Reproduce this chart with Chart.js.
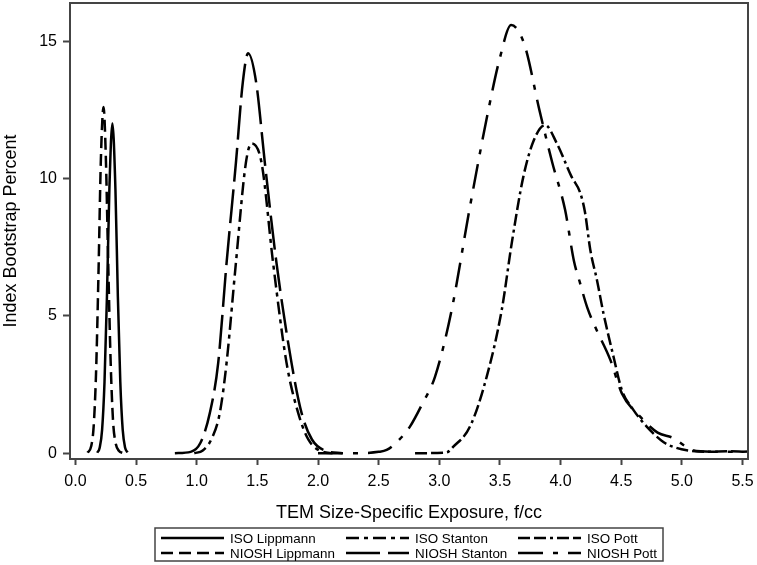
<!DOCTYPE html>
<html>
<head>
<meta charset="utf-8">
<script src="https://cdn.jsdelivr.net/npm/chart.js@4"></script>
<style>
  body { margin: 0; background: #fff; }
  #wrap { width: 757px; height: 565px; position: relative; }
</style>
</head>
<body>
<div id="wrap"><canvas id="myChart"></canvas></div>
<script>
"use strict";

// tick labels
const xTicks = [0, 0.5, 1, 1.5, 2, 2.5, 3, 3.5, 4, 4.5, 5, 5.5];
const yTicks = [0, 5, 10, 15];

const seriesNames = ['ISO Lippmann', 'ISO Stanton', 'ISO Pott', 'NIOSH Lippmann', 'NIOSH Stanton', 'NIOSH Pott'];

// values (x = f/cc, y = percent)
const isoLippmannX = [0.18, 0.20, 0.22, 0.24, 0.26, 0.28, 0.305, 0.33, 0.35, 0.37, 0.39, 0.41, 0.43];
const isoLippmannY = [0.02, 0.2, 0.85, 2.6, 5.7, 9.6, 12.0, 9.6, 5.7, 2.6, 0.85, 0.2, 0.03];

const nioshLippmannX = [0.10, 0.13, 0.15, 0.17, 0.19, 0.21, 0.232, 0.25, 0.27, 0.29, 0.31, 0.33, 0.36, 0.39];
const nioshLippmannY = [0.02, 0.25, 0.95, 2.9, 6.5, 10.7, 12.6, 10.9, 7.0, 3.4, 1.2, 0.4, 0.08, 0.01];

const isoStantonX = [0.98, 1.05, 1.12, 1.19, 1.246, 1.323, 1.405, 1.452, 1.535, 1.63, 1.741, 1.837, 1.92, 2.04, 2.12];
const isoStantonY = [0.0, 0.1, 0.5, 1.46, 3.28, 6.92, 10.56, 11.28, 10.56, 6.92, 3.28, 1.46, 0.5, 0.05, 0.0];

const nioshStantonX = [0.82, 0.95, 1.03, 1.108, 1.177, 1.246, 1.323, 1.38, 1.424, 1.49, 1.562, 1.658, 1.782, 1.865, 1.95, 2.07, 2.2];
const nioshStantonY = [0.0, 0.05, 0.37, 1.46, 3.28, 6.92, 10.56, 13.5, 14.56, 13.5, 10.56, 6.92, 3.28, 1.46, 0.5, 0.08, 0.0];

const isoPottX = [2.80, 3.06, 3.116, 3.253, 3.391, 3.515, 3.597, 3.693, 3.78, 3.872, 3.969, 4.09, 4.16, 4.2, 4.245, 4.30, 4.353, 4.436, 4.505, 4.60, 4.71, 4.85, 4.95, 5.05, 5.2, 5.4, 5.55];
const isoPottY = [0.0, 0.03, 0.24, 0.97, 2.79, 5.22, 7.64, 10.07, 11.4, 11.95, 11.28, 10.07, 9.5, 8.8, 7.4, 6.3, 5.1, 3.52, 2.3, 1.58, 0.97, 0.4, 0.2, 0.1, 0.05, 0.07, 0.05];

const nioshPottX = [2.0, 2.3, 2.5, 2.566, 2.66, 2.758, 2.86, 2.965, 3.102, 3.248, 3.405, 3.50, 3.592, 3.70, 3.825, 3.93, 4.037, 4.11, 4.16, 4.22, 4.285, 4.41, 4.505, 4.656, 4.80, 4.93, 5.03, 5.12, 5.3, 5.55];
const nioshPottY = [0.0, 0.0, 0.05, 0.12, 0.45, 0.97, 1.8, 2.79, 5.22, 8.86, 12.5, 14.4, 15.59, 14.9, 12.5, 10.6, 8.86, 7.0, 6.2, 5.3, 4.6, 3.4, 2.18, 1.33, 0.75, 0.55, 0.25, 0.08, 0.05, 0.06];

const seriesX = [isoLippmannX, isoStantonX, isoPottX, nioshLippmannX, nioshStantonX, nioshPottX];
const seriesY = [isoLippmannY, isoStantonY, isoPottY, nioshLippmannY, nioshStantonY, nioshPottY];

// line styles for each series
const dashes = [[], [13, 5, 4, 5], [12, 4, 12, 4, 3, 4], [12, 6], [34, 8], [25, 10, 5, 10]];

const FONT = "'Liberation Sans', Arial, sans-serif";
const AXIS = '#444';

function toPoints(xs, ys) {
  return xs.map(function (x, i) { return { x: x, y: ys[i] }; });
}

const datasets = seriesNames.map(function (name, i) {
  return {
    label: name,
    data: toPoints(seriesX[i], seriesY[i]),
    borderColor: '#000',
    borderWidth: 2.5,
    borderDash: dashes[i],
    pointRadius: 0,
    fill: false,
    cubicInterpolationMode: 'monotone'
  };
});

// top + right frame
const framePlugin = {
  id: 'frame',
  afterDraw: function (chart) {
    const c = chart.ctx, a = chart.chartArea;
    c.save();
    c.strokeStyle = AXIS;
    c.lineWidth = 2;
    c.beginPath();
    c.moveTo(a.left, a.top);
    c.lineTo(a.right, a.top);
    c.lineTo(a.right, a.bottom);
    c.stroke();
    c.restore();
  }
};

// boxed legend, 3 columns x 2 rows
const legendPlugin = {
  id: 'boxLegend',
  afterDraw: function (chart) {
    const c = chart.ctx;
    const colX = [161, 346, 518];
    const rowY = [538, 553];
    c.save();
    c.strokeStyle = AXIS;
    c.lineWidth = 1.5;
    c.strokeRect(155, 528, 508, 33);
    c.font = '13.4px ' + FONT;
    c.textBaseline = 'middle';
    c.fillStyle = '#000';
    chart.data.datasets.forEach(function (ds, i) {
      const x = colX[i % 3], y = rowY[Math.floor(i / 3)];
      c.beginPath();
      c.strokeStyle = '#000';
      c.lineWidth = 2.5;
      c.setLineDash(ds.borderDash);
      c.moveTo(x, y);
      c.lineTo(x + 63, y);
      c.stroke();
      c.setLineDash([]);
      c.fillText(ds.label, x + 69, y + 1);
    });
    c.restore();
  }
};

var ctx = document.getElementById('myChart').getContext('2d');
new Chart(ctx, {
  type: 'line',
  data: { datasets: datasets },
  options: {
    responsive: true,
    maintainAspectRatio: false,
    animation: false,
    layout: { padding: { top: 3, right: 9, left: 0, bottom: 0 } },
    plugins: {
      legend: { display: false },
      tooltip: { enabled: false }
    },
    scales: {
      x: {
        type: 'linear',
        min: -0.0446,
        max: 5.545,
        afterBuildTicks: function (scale) {
          scale.ticks = xTicks.map(function (v) { return { value: v }; });
        },
        afterFit: function (scale) {
          scale.height = 106;
          scale.paddingLeft = 0;
          scale.paddingRight = 0;
        },
        border: { display: true, color: AXIS, width: 2 },
        grid: { drawOnChartArea: false, drawTicks: true, tickLength: 6, tickColor: AXIS, tickWidth: 2 },
        ticks: {
          padding: 7,
          color: '#000',
          maxRotation: 0,
          autoSkip: false,
          font: { family: FONT, size: 16 },
          callback: function (v) { return v.toFixed(1); }
        },
        title: {
          display: true,
          text: 'TEM Size-Specific Exposure, f/cc',
          color: '#000',
          font: { family: FONT, size: 18 },
          padding: { top: 0, bottom: 41 }
        }
      },
      y: {
        type: 'linear',
        min: -0.21,
        max: 16.39,
        afterBuildTicks: function (scale) {
          scale.ticks = yTicks.map(function (v) { return { value: v }; });
        },
        afterFit: function (scale) {
          scale.width = 70;
          scale.paddingTop = 0;
          scale.paddingBottom = 0;
        },
        border: { display: true, color: AXIS, width: 2 },
        grid: { drawOnChartArea: false, drawTicks: true, tickLength: 7, tickColor: AXIS, tickWidth: 2 },
        ticks: {
          padding: 6,
          color: '#000',
          font: { family: FONT, size: 16 },
          callback: function (v) { return String(v); }
        },
        title: {
          display: true,
          text: 'Index Bootstrap Percent',
          color: '#000',
          font: { family: FONT, size: 18 },
          padding: { top: 0, bottom: 0 }
        }
      }
    }
  },
  plugins: [framePlugin, legendPlugin]
});
</script>
</body>
</html>
